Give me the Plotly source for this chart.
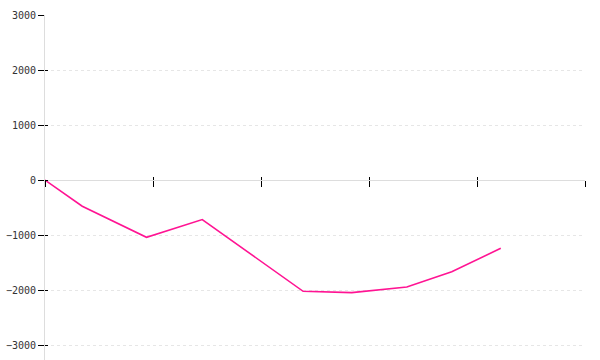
import plotly.graph_objects as go

# Data
x_vals = [0, 0.345, 0.94, 1.456, 2.39, 2.84, 3.35, 3.766, 4.22]
y_vals = [0, -476, -1040, -718, -2021, -2045, -1942, -1667, -1240]
y_ticks = [-3000, -2000, -1000, 0, 1000, 2000, 3000]
x_ticks = [0, 1, 2, 3, 4, 5]
y_range = [-3270, 3000]
x_range = [0, 5]

LINE_COLOR = "#ff1493"
AXIS_GRAY = "#dddddd"
GRID_GRAY = "#e6e6e6"
FONT = dict(family="DejaVu Sans Mono", size=10, color="#333333")

zero_pos = (0 - y_range[0]) / (y_range[1] - y_range[0])

fig = go.Figure()
fig.add_trace(go.Scatter(
    x=x_vals, y=y_vals, mode="lines",
    line=dict(color=LINE_COLOR, width=1.6),
    hoverinfo="skip", showlegend=False,
))
# invisible companion trace so the overlay axes (inside tick halves) render
fig.add_trace(go.Scatter(
    x=x_vals, y=y_vals, mode="lines", xaxis="x2", yaxis="y2",
    line=dict(color="rgba(0,0,0,0)", width=0),
    hoverinfo="skip", showlegend=False,
))

fig.update_layout(
    width=600, height=360,
    margin=dict(l=45, r=15, t=15, b=0),
    paper_bgcolor="white", plot_bgcolor="white",
    font=FONT,
    xaxis=dict(
        range=x_range, tickvals=x_ticks, showticklabels=False,
        showgrid=False, zeroline=False,
        showline=True, linecolor=AXIS_GRAY, linewidth=1,
        ticks="outside", ticklen=6, tickcolor="black", tickwidth=1,
        anchor="free", position=zero_pos,
    ),
    xaxis2=dict(
        range=x_range, tickvals=x_ticks, showticklabels=False,
        showgrid=False, zeroline=False, showline=False,
        ticks="inside", ticklen=3, tickcolor="black", tickwidth=1,
        overlaying="x", anchor="free", position=zero_pos,
    ),
    yaxis=dict(
        range=y_range, tickvals=y_ticks,
        showgrid=True, gridcolor=GRID_GRAY, griddash="dot", gridwidth=1,
        zeroline=False,
        showline=True, linecolor=AXIS_GRAY, linewidth=1,
        ticks="outside", ticklen=6, tickcolor="black", tickwidth=1,
        tickfont=FONT, ticklabelstandoff=0,
    ),
    yaxis2=dict(
        range=y_range, tickvals=y_ticks, showticklabels=False,
        showgrid=False, zeroline=False, showline=False,
        ticks="inside", ticklen=3, tickcolor="black", tickwidth=1,
        overlaying="y", side="left",
    ),
)

fig.write_html("out.html")
